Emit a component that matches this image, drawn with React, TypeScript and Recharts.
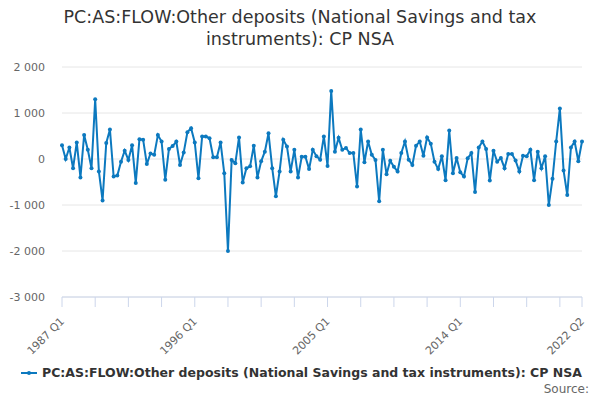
import { LineChart, Line, XAxis, YAxis, CartesianGrid } from "recharts";

const SERIES_NAME =
  "PC:AS:FLOW:Other deposits (National Savings and tax instruments): CP NSA";

// quarterly values, 1987 Q1 .. 2022 Q2
const VALUES = [
  300, 0, 250, -200, 360, -400, 520, 200, -200, 1300, -270, -900, 350, 640,
  -380, -360, -60, 180, -20, 300, -520, 430, 420, -110,
  120, 90, 520, 380, -450, 220, 280, 380, -130, 140, 580, 670, 360, -420, 490,
  490, 450, 40, 40, 360, -310, -2000, -20, -90, 470,
  -510, -200, -160, 290, -400, -50, 160, 560, -200, -810, -270, 420, 270, -270,
  200, -400, 50, 50, -220, 200, 60, -15, 490, -150, 1480,
  160, 460, 200, 240, 130, 130, -600, 640, -70, 380, 90, -20, -920, 200, -330,
  -40, -170, -270, 130, 380, -15, -130, 290,
  380, 70, 470, 330, -60, -220, 60, -460, 620, -310, 20, -290, -380, 15, 130,
  -720, 250, 380, 220, -470, 180, -60, 20, -200,
  110, 110, -35, -270, 70, 60, 200, -460, 160, -200, 60, -1000, -430, 380,
  1100, -250, -780, 250, 380, -50, 380,
];

const QUARTERS = VALUES.map(
  (_, i) => `${1987 + Math.floor(i / 4)} Q${(i % 4) + 1}`
);

const LABELED_TICKS = ["1987 Q1", "1996 Q1", "2005 Q1", "2014 Q1", "2022 Q2"];
const Y_TICKS = [-3000, -2000, -1000, 0, 1000, 2000];

const COLOR = "#0c79bf";
const FONT = "'DejaVu Sans', sans-serif";

const data = VALUES.map((v, i) => ({ quarter: QUARTERS[i], value: v }));

// tick marks every 9 quarters, plus the last one
const xTicks = QUARTERS.filter(
  (_, i) => i % 9 === 0 || i === QUARTERS.length - 1
);

const fmtAbs = (v: number) =>
  v >= 1000 ? `${Math.floor(v / 1000)} ${String(v % 1000).padStart(3, "0")}` : String(v);
const fmt = (v: number) => (v < 0 ? `-${fmtAbs(-v)}` : fmtAbs(v));

function XTick(props: any) {
  const { x, y, payload } = props;
  if (!LABELED_TICKS.includes(payload.value)) return null;
  const ax = x + 3;
  const ay = y + 13;
  return (
    <text
      x={ax}
      y={ay}
      transform={`rotate(-45, ${ax}, ${ay})`}
      textAnchor="end"
      fontSize={11}
      fontFamily={FONT}
      fill="#666666"
    >
      {payload.value}
    </text>
  );
}

export default function App() {
  return (
    <div
      style={{
        position: "absolute",
        left: 0,
        top: 0,
        width: 600,
        height: 400,
        background: "#fff",
        fontFamily: FONT,
      }}
    >
      <div
        style={{
          position: "absolute",
          top: 6,
          left: 0,
          width: 600,
          textAlign: "center",
          fontSize: 17.5,
          lineHeight: "22px",
          color: "#333333",
        }}
      >
        PC:AS:FLOW:Other deposits (National Savings and tax
        <br />
        instruments): CP NSA
      </div>
      <LineChart
        width={600}
        height={400}
        data={data}
        margin={{ top: 67, right: 18, left: 0, bottom: 58 }}
      >
        <CartesianGrid vertical={false} stroke="#e6e6e6" />
        <XAxis
          dataKey="quarter"
          ticks={xTicks}
          interval={0}
          tick={<XTick />}
          tickSize={10}
          axisLine={{ stroke: "#ccd6eb" }}
          tickLine={{ stroke: "#ccd6eb" }}
          height={45}
        />
        <YAxis
          domain={[-3000, 2000]}
          ticks={Y_TICKS}
          tickFormatter={fmt}
          axisLine={false}
          tickLine={false}
          tickSize={0}
          tickMargin={17}
          width={62}
          tick={{ fontSize: 11, fill: "#666666", fontFamily: FONT }}
        />
        <Line
          type="linear"
          dataKey="value"
          stroke={COLOR}
          strokeWidth={2}
          dot={{ r: 2, fill: COLOR, stroke: COLOR, strokeWidth: 0 }}
          isAnimationActive={false}
        />
      </LineChart>
      <div
        style={{
          position: "absolute",
          top: 365,
          left: 20,
          display: "flex",
          alignItems: "center",
          fontSize: 12.5,
          fontWeight: "bold",
          color: "#333333",
          whiteSpace: "nowrap",
        }}
      >
        <svg width={18} height={10} style={{ marginRight: 4 }}>
          <line x1={1} y1={5} x2={17} y2={5} stroke={COLOR} strokeWidth={2} />
          <circle cx={9} cy={5} r={2} fill={COLOR} />
        </svg>
        {SERIES_NAME}
      </div>
      <div
        style={{
          position: "absolute",
          top: 382,
          right: 11,
          fontSize: 12,
          color: "#666666",
        }}
      >
        Source:
      </div>
    </div>
  );
}
